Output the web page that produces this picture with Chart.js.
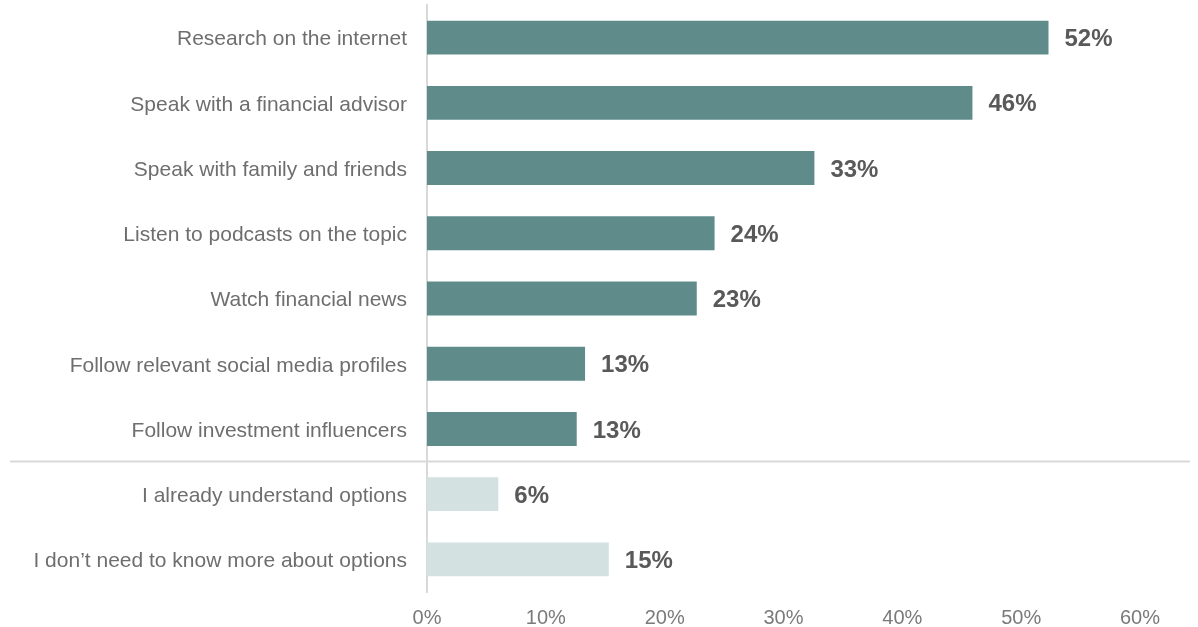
<!DOCTYPE html>
<html lang="en">
<head>
    <meta charset="UTF-8">
    <title>How people learn about options</title>
    <script src="https://cdn.jsdelivr.net/npm/chart.js"></script>
    <style>
        body {
            margin: 0;
            background: #ffffff;
        }
        #wrap {
            width: 1198px;
            height: 627px;
            position: relative;
        }
    </style>
</head>
<body>
    <div id="wrap">
        <canvas id="learnChart"></canvas>
    </div>

    <script>
        // answers, top to bottom
        const answers = [
            'Research on the internet',
            'Speak with a financial advisor',
            'Speak with family and friends',
            'Listen to podcasts on the topic',
            'Watch financial news',
            'Follow relevant social media profiles',
            'Follow investment influencers',
            'I already understand options',
            'I don\u2019t need to know more about options'
        ];
        // share of respondents, %
        const shares = [52.3, 45.9, 32.6, 24.2, 22.7, 13.3, 12.6, 6.0, 15.3];
        // first block = ways to learn, second block = no need to learn
        const answerGroup = ['learn', 'learn', 'learn', 'learn', 'learn', 'learn', 'learn', 'none', 'none'];
        const xTicks = [0, 10, 20, 30, 40, 50, 60];

        const groupColor = { learn: '#5f8b8b', none: '#d3e1e1' };
        const lineGray = '#d9d9d9';
        const font = '"Liberation Sans", Arial, sans-serif';

        // bold value printed right of each bar
        const valueLabels = {
            id: 'valueLabels',
            afterDatasetsDraw(chart) {
                const ctx = chart.ctx;
                const meta = chart.getDatasetMeta(0);
                ctx.save();
                ctx.font = 'bold 24px ' + font;
                ctx.fillStyle = '#595959';
                ctx.textAlign = 'left';
                ctx.textBaseline = 'middle';
                meta.data.forEach((bar, i) => {
                    const v = chart.data.datasets[0].data[i];
                    ctx.fillText(Math.round(v) + '%', bar.x + 16, bar.y + 2);
                });
                ctx.restore();
            }
        };

        // thin rule separating the two answer blocks
        const groupDivider = {
            id: 'groupDivider',
            beforeDatasetsDraw(chart) {
                const y = chart.scales.y;
                const split = answerGroup.indexOf('none');
                const py = (y.getPixelForValue(split - 1) + y.getPixelForValue(split)) / 2;
                const ctx = chart.ctx;
                ctx.save();
                ctx.strokeStyle = lineGray;
                ctx.lineWidth = 2;
                ctx.beginPath();
                ctx.moveTo(10, py);
                ctx.lineTo(1190, py);
                ctx.stroke();
                ctx.restore();
            }
        };

        new Chart(document.getElementById('learnChart'), {
            type: 'bar',
            data: {
                labels: answers,
                datasets: [{
                    data: shares,
                    backgroundColor: answerGroup.map(g => groupColor[g]),
                    categoryPercentage: 1,
                    barPercentage: 0.52
                }]
            },
            options: {
                indexAxis: 'y',
                responsive: true,
                maintainAspectRatio: false,
                animation: false,
                layout: {
                    padding: { top: 5, right: 58, bottom: 0, left: 0 }
                },
                plugins: {
                    legend: { display: false },
                    tooltip: { enabled: false }
                },
                scales: {
                    x: {
                        min: 0,
                        max: 60,
                        afterFit(scale) { scale.height = 35; },
                        afterBuildTicks(scale) {
                            scale.ticks = xTicks.map(v => ({ value: v }));
                        },
                        grid: { display: false, drawTicks: false },
                        border: { display: false },
                        ticks: {
                            padding: 14,
                            color: '#7a7a7a',
                            font: { family: font, size: 20 },
                            callback: v => v + '%'
                        }
                    },
                    y: {
                        afterFit(scale) {
                            scale.width = 427;
                            // labels sit inside their bands, no extra room needed
                            scale.paddingTop = 0;
                            scale.paddingBottom = 0;
                        },
                        grid: { display: false, drawTicks: false },
                        border: { display: true, color: lineGray, width: 2 },
                        ticks: {
                            padding: 20,
                            labelOffset: 2,
                            color: '#6e6e6e',
                            font: { family: font, size: 21 }
                        }
                    }
                }
            },
            plugins: [groupDivider, valueLabels]
        });
    </script>
</body>
</html>
